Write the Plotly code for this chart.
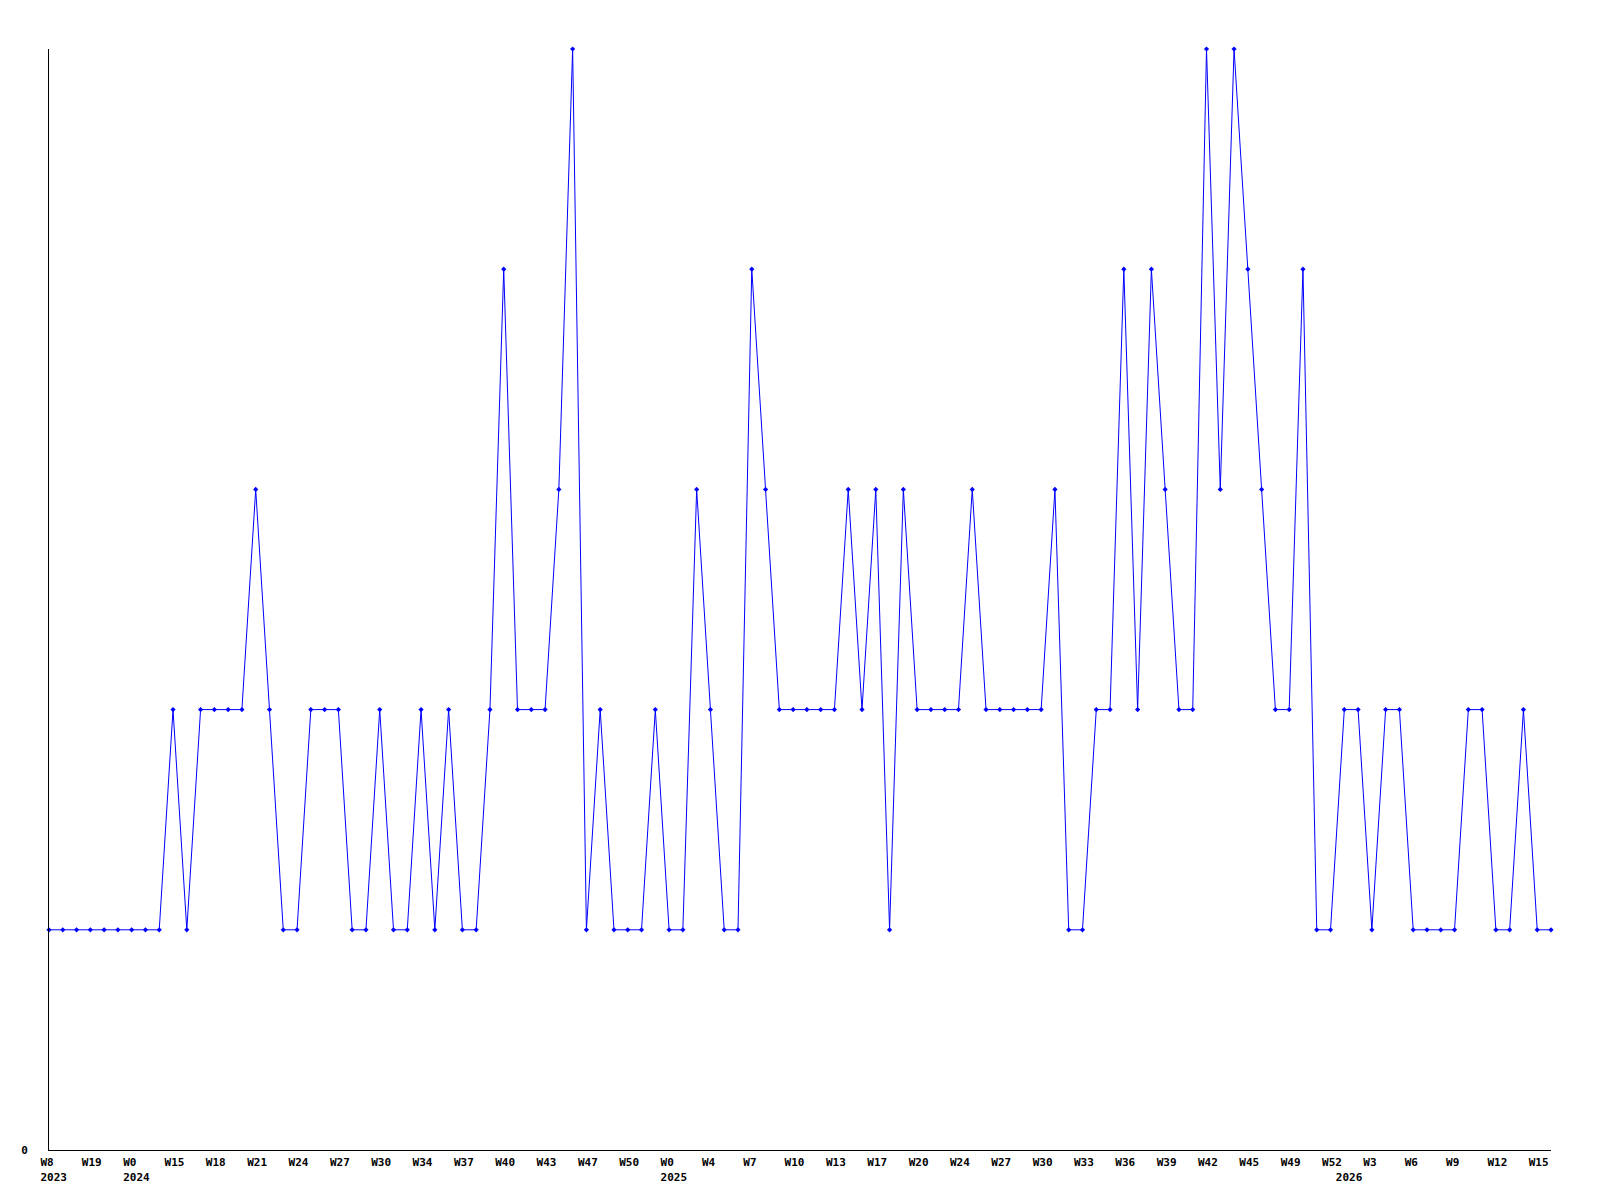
import plotly.graph_objects as go

values = [1, 1, 1, 1, 1, 1, 1, 1, 1, 2,
          1, 2, 2, 2, 2, 3, 2, 1, 1, 2,
          2, 2, 1, 1, 2, 1, 1, 2, 1, 2,
          1, 1, 2, 4, 2, 2, 2, 3, 5, 1,
          2, 1, 1, 1, 2, 1, 1, 3, 2, 1,
          1, 4, 3, 2, 2, 2, 2, 2, 3, 2,
          3, 1, 3, 2, 2, 2, 2, 3, 2, 2,
          2, 2, 2, 3, 1, 1, 2, 2, 4, 2,
          4, 3, 2, 2, 5, 3, 5, 4, 3, 2,
          2, 4, 1, 1, 2, 2, 1, 2, 2, 1,
          1, 1, 1, 2, 2, 1, 1, 2, 1, 1]

tick_weeks = ["W8", "W19", "W0", "W15", "W18", "W21", "W24", "W27", "W30", "W34",
              "W37", "W40", "W43", "W47", "W50", "W0", "W4", "W7", "W10", "W13",
              "W17", "W20", "W24", "W27", "W30", "W33", "W36", "W39", "W42", "W45",
              "W49", "W52", "W3", "W6", "W9", "W12", "W15"]
tick_step = 3

year_labels = ["2023", "2024", "2025", "2026"]
year_index = [0, 6, 45, 94]

x = list(range(len(values)))

labels = {}
for i, w in enumerate(tick_weeks):
    labels[i * tick_step] = [w, None]
for yi, yl in zip(year_index, year_labels):
    labels.setdefault(yi, ["\u00a0", None])[1] = yl
tickvals = sorted(labels)
ticktext = [labels[v][0] + ("<br>" + labels[v][1] if labels[v][1] else "") for v in tickvals]

fig = go.Figure()
fig.add_trace(go.Scatter(
    x=x, y=values, mode="lines+markers",
    line=dict(color="#0000ff", width=1),
    marker=dict(symbol="diamond", size=4, color="#0000ff"),
    cliponaxis=False,
    hoverinfo="skip",
))

font = dict(family="DejaVu Sans Mono", size=11, color="#000000", weight="bold")

# page body adds an 8px offset; figure sized so the plot area lands where the reference has it
fig.update_layout(
    width=1584, height=1184,
    paper_bgcolor="#ffffff", plot_bgcolor="#ffffff",
    margin=dict(l=41, r=41, t=41, b=42, autoexpand=False),
    showlegend=False,
    font=font,
    xaxis=dict(
        range=[0, len(values) - 1],
        tickmode="array", tickvals=tickvals, ticktext=ticktext,
        showgrid=False, zeroline=False,
        showline=True, linecolor="#000000", linewidth=1,
        ticks="", tickfont=font, tickangle=0,
        ticklabelposition="outside right", ticklabelshift=-9,
        ticklabelstandoff=2,
    ),
    yaxis=dict(
        range=[0, 5],
        tickmode="array", tickvals=[0], ticktext=["0"],
        showgrid=False, zeroline=False,
        showline=True, linecolor="#000000", linewidth=1,
        ticks="", tickfont=font,
        ticklabelstandoff=18,
    ),
)

fig.write_html("out.html")
